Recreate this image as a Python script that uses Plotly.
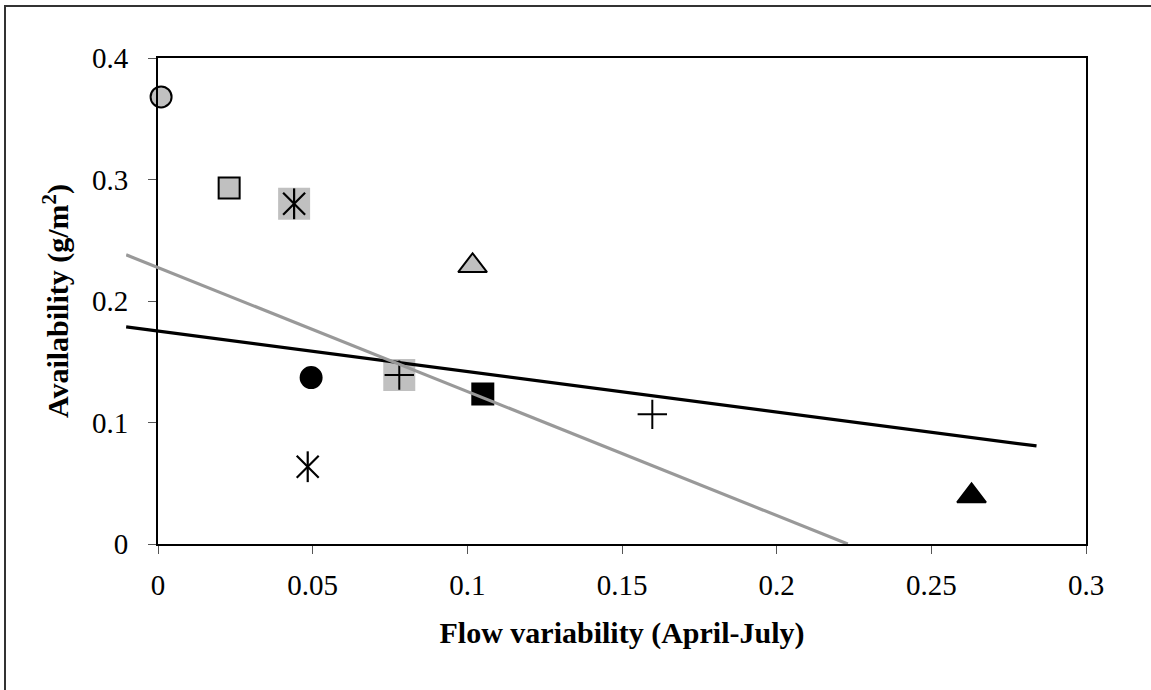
import plotly.graph_objects as go

# Site measurements: flow variability (April-July) vs. availability (g/m2)
flow_variability = [0.001, 0.023, 0.044, 0.0495, 0.0484, 0.078, 0.105, 0.1017, 0.1598, 0.263]
availability = [0.368, 0.293, 0.280, 0.137, 0.0636, 0.139, 0.1235, 0.229, 0.1067, 0.0395]

# Trend lines (end points)
trend_gray_x = [-0.0103, 0.223]
trend_gray_y = [0.238, 0.0]
trend_black_x = [-0.0103, 0.284]
trend_black_y = [0.1787, 0.0807]

x_ticks = [0, 0.05, 0.1, 0.15, 0.2, 0.25, 0.3]
x_tick_text = ["0", "0.05", "0.1", "0.15", "0.2", "0.25", "0.3"]
y_ticks = [0, 0.1, 0.2, 0.3, 0.4]
y_tick_text = ["0", "0.1", "0.2", "0.3", "0.4"]

GRAY = "#c0c0c0"
BLACK = "#000000"

# Marker style for each site: (symbol kind, fill, gray backdrop)
styles = [
    ("circle", GRAY, False),
    ("square", GRAY, False),
    ("asterisk", None, True),
    ("circle", BLACK, False),
    ("asterisk", None, False),
    ("plus", None, True),
    ("square", BLACK, False),
    ("triangle", GRAY, False),
    ("plus", None, False),
    ("triangle", BLACK, False),
]

fig = go.Figure()


def add_marker(x, y, symbol, size, color, line_color, line_width):
    fig.add_trace(go.Scatter(
        x=[x], y=[y], mode="markers", xaxis="x", yaxis="y",
        marker=dict(symbol=symbol, size=size, color=color,
                    line=dict(color=line_color, width=line_width)),
        cliponaxis=False, hoverinfo="skip", showlegend=False,
    ))


for xv, yv, (kind, fill, backdrop) in zip(flow_variability, availability, styles):
    if backdrop:
        add_marker(xv, yv, "square", 32, GRAY, GRAY, 0)
    if kind == "circle":
        add_marker(xv, yv, "circle", 21, fill, BLACK, 2)
    elif kind == "square":
        add_marker(xv, yv, "square", 21, fill, BLACK, 2)
    elif kind == "triangle":
        add_marker(xv, yv, "triangle-up", 25, fill, BLACK, 2)
    elif kind == "asterisk":
        add_marker(xv, yv, "x-thin-open", 22, BLACK, BLACK, 2.2)
        add_marker(xv, yv, "line-ns-open", 22, BLACK, BLACK, 2.2)
    elif kind == "plus":
        add_marker(xv, yv, "cross-thin-open", 21, BLACK, BLACK, 2)

# Trend lines live on a wider companion x-axis so they can start left of x = 0
fig.add_trace(go.Scatter(
    x=trend_black_x, y=trend_black_y, mode="lines", xaxis="x2", yaxis="y",
    line=dict(color=BLACK, width=3.2), hoverinfo="skip", showlegend=False,
))
fig.add_trace(go.Scatter(
    x=trend_gray_x, y=trend_gray_y, mode="lines", xaxis="x2", yaxis="y",
    line=dict(color="#999999", width=3.2), hoverinfo="skip", showlegend=False,
))

W, H = 1151, 690
ML, MR, MT, MB = 126, 65, 58, 146
plot_w = W - ML - MR          # 960 px
axis_left_px = 32             # x = 0 sits this far right of the companion axis
x_max = 0.3
main_w = plot_w - axis_left_px
x2_min = -x_max * axis_left_px / main_w

tick_font = dict(family="Liberation Serif, Times New Roman, serif", size=29, color="black")
title_font = dict(family="Liberation Serif, Times New Roman, serif", size=30, color="black")

fig.update_layout(
    width=W, height=H,
    margin=dict(l=ML, r=MR, t=MT, b=MB),
    paper_bgcolor="white", plot_bgcolor="rgba(0,0,0,0)",
    showlegend=False,
    xaxis=dict(
        domain=[axis_left_px / plot_w, 1], range=[0, x_max], anchor="y",
        tickvals=x_ticks, ticktext=x_tick_text, tickfont=tick_font,
        showgrid=False, zeroline=False,
        showline=True, linecolor="black", linewidth=2, mirror=True,
        ticks="outside", ticklen=8, tickwidth=1, tickcolor="#555555",
        ticklabelstandoff=6,
        title=dict(text="<b>Flow variability (April-July)</b>", font=title_font, standoff=22),
    ),
    xaxis2=dict(
        domain=[0, 1], range=[x2_min, x_max], anchor="y", visible=False,
    ),
    yaxis=dict(
        domain=[0, 1], range=[0, 0.4], anchor="x",
        tickvals=y_ticks, ticktext=y_tick_text, tickfont=tick_font,
        showgrid=False, zeroline=False,
        showline=True, linecolor="black", linewidth=2, mirror=True,
        ticks="outside", ticklen=8, tickwidth=1, tickcolor="#555555",
        ticklabelstandoff=14,
        title=dict(text="<b>Availability (g/m<sup>2</sup>)</b>", font=title_font, standoff=14),
    ),
    shapes=[dict(
        type="rect", xref="paper", yref="paper",
        x0=(5 - ML) / plot_w, x1=(W + 10 - ML) / plot_w,
        y0=-(H + 10 - (H - MB)) / (H - MT - MB), y1=(H - MB - 6) / (H - MT - MB),
        line=dict(color="#333333", width=2), fillcolor="rgba(0,0,0,0)", layer="below",
    )],
)

fig.write_html("out.html")
